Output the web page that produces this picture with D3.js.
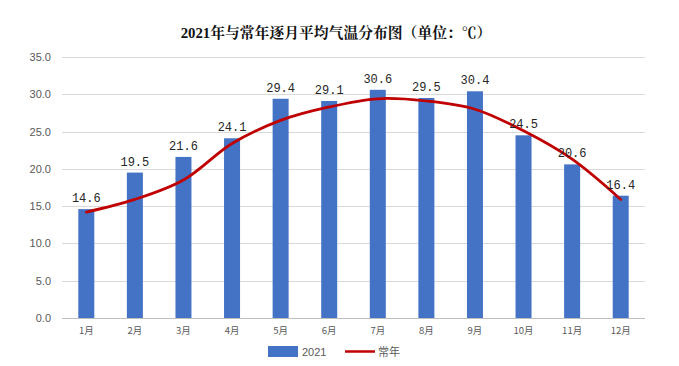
<!DOCTYPE html>
<html><head><meta charset="utf-8">
<script src="https://cdn.jsdelivr.net/npm/d3@7"></script>
<style>body{margin:0;background:#fff}</style>
</head><body>
<svg id="c" width="679" height="366"></svg>
<script>
const months = ["1月","2月","3月","4月","5月","6月","7月","8月","9月","10月","11月","12月"];
const temp2021 = [14.6,19.5,21.6,24.1,29.4,29.1,30.6,29.5,30.4,24.5,20.6,16.4];
const normalTemp = [14.2,15.9,18.5,23.4,26.5,28.3,29.4,29.1,28.0,25.1,21.3,15.9];
const yTicks = [0,5,10,15,20,25,30,35];
const titleText = "2021年与常年逐月平均气温分布图（单位：℃）";
const legendLabels = ["2021","常年"];

(function(){
const svg = d3.select("#c");
const mL = 62, mR = 645, mT = 57, mB = 318;
const x = d3.scaleBand().domain(months).range([mL,mR]);
const y = d3.scaleLinear().domain([0,35]).range([mB,mT]);

svg.append("text").attr("x",336).attr("y",38).attr("text-anchor","middle")
  .attr("font-family","'Liberation Serif','Noto Serif CJK SC','Noto Sans CJK SC',serif")
  .attr("font-weight","bold").attr("font-size",14.8).attr("fill","#111").text(titleText);

svg.append("g").selectAll("line").data(yTicks).join("line")
  .attr("x1",mL).attr("x2",mR).attr("y1",d=>Math.round(y(d))+0.5).attr("y2",d=>Math.round(y(d))+0.5)
  .attr("stroke",d=>d===0?"#bfbfbf":"#d9d9d9").attr("stroke-width",1);

const yAxis = svg.append("g").attr("transform",`translate(${mL-8},0)`)
  .call(d3.axisLeft(y).tickValues(yTicks).tickFormat(d3.format(".1f")).tickSize(0));
yAxis.select(".domain").remove();
yAxis.selectAll("text").attr("font-family","'Liberation Sans',Arial,sans-serif").attr("font-size",11).attr("fill","#595959");

const xAxis = svg.append("g").attr("transform",`translate(0,${mB+6})`)
  .call(d3.axisBottom(x).tickSize(0));
xAxis.select(".domain").remove();
xAxis.selectAll("text").attr("font-family","'Noto Sans CJK SC',sans-serif").attr("font-size",9.5).attr("fill","#595959");

const bw = 16;
svg.append("g").selectAll("rect").data(temp2021).join("rect")
  .attr("x",(d,i)=>x(months[i])+x.bandwidth()/2-bw/2).attr("width",bw)
  .attr("y",d=>y(d)).attr("height",d=>y(0)-y(d)).attr("fill","#4472C4");

const line = d3.line().x((d,i)=>x(months[i])+x.bandwidth()/2).y(d=>y(d)).curve(d3.curveCatmullRom.alpha(0.5));
svg.append("path").datum(normalTemp).attr("d",line).attr("fill","none")
  .attr("stroke","#C00000").attr("stroke-width",2.75).attr("stroke-linecap","round");

svg.append("g").selectAll("text").data(temp2021).join("text")
  .attr("x",(d,i)=>x(months[i])+x.bandwidth()/2).attr("y",d=>y(d)-7)
  .attr("text-anchor","middle").attr("font-family","'Liberation Mono','DejaVu Sans Mono',monospace")
  .attr("font-size",12).attr("fill","#262626").text(d=>d.toFixed(1));

const lg = svg.append("g");
lg.append("rect").attr("x",268).attr("y",346).attr("width",30).attr("height",11).attr("fill","#4472C4");
lg.append("text").attr("x",302).attr("y",356).attr("font-family","'Liberation Sans',Arial,sans-serif")
  .attr("font-size",11).attr("fill","#595959").text(legendLabels[0]);
lg.append("line").attr("x1",345).attr("x2",375).attr("y1",351.5).attr("y2",351.5).attr("stroke","#C00000").attr("stroke-width",2.5);
lg.append("text").attr("x",378).attr("y",356).attr("font-family","'Noto Sans CJK SC',sans-serif")
  .attr("font-size",11).attr("fill","#595959").text(legendLabels[1]);
})();
</script>
</body></html>
